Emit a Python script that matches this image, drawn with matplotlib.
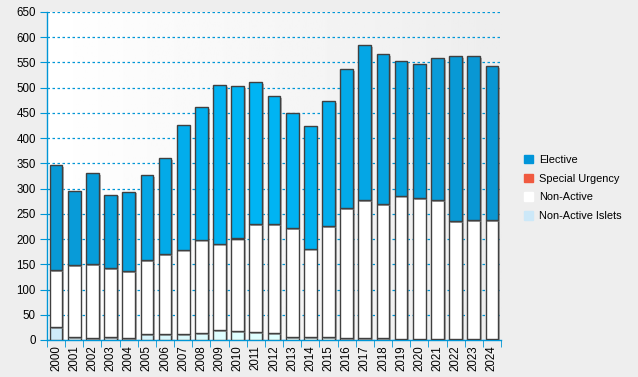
import numpy as np
import matplotlib
matplotlib.use("Agg")
import matplotlib.pyplot as plt
import matplotlib.patheffects as pe
from matplotlib.patches import Patch

years = [str(y) for y in range(2000, 2025)]
totals = [347, 296, 331, 288, 294, 327, 361, 426, 462, 505, 503, 511, 483,
          450, 424, 473, 537, 584, 567, 553, 547, 559, 563, 563, 543]
non_active = [113, 142, 147, 137, 132, 147, 159, 167, 185, 171, 183, 214, 216,
              216, 175, 220, 258, 274, 266, 285, 281, 277, 235, 237, 237]
islets = [26, 6, 4, 6, 4, 12, 12, 12, 14, 20, 18, 16, 14,
          6, 6, 6, 4, 4, 4, 1, 1, 1, 1, 1, 1]
special = [0, 0, 0, 0, 0, 0, 0, 0, 0, 0, 2, 0, 0,
           0, 0, 0, 0, 0, 0, 0, 0, 0, 0, 0, 0]
elective = [t - n - i - s for t, n, i, s in zip(totals, non_active, islets, special)]

BLUE = "#0096d6"
plt.rcParams["font.family"] = ["Liberation Sans", "DejaVu Sans"]

fig = plt.figure(figsize=(6.38, 3.77), dpi=100, facecolor="#eeeeee")
ax = fig.add_axes([47 / 638, 1 - 340 / 377, 454 / 638, 328 / 377])

# background gradient of the plot area
grad = np.linspace(1.0, 0.93, 256).reshape(1, -1)
ax.imshow(grad, extent=[0, 1, 0, 1], transform=ax.transAxes, cmap="gray",
          vmin=0, vmax=1, aspect="auto", zorder=0)

x = np.arange(len(years))
# lighting effect: bars brighter toward the middle
w = np.exp(-((x - 11) / 8.0) ** 2)
dark = np.array([0x0a, 0x94, 0xd0]) / 255
light = np.array([0x00, 0xb4, 0xf4]) / 255
el_cols = [tuple(dark + (light - dark) * k) for k in w]
isl_dark = np.array([0xcc, 0xe8, 0xf8]) / 255
isl_light = np.array([0xe0, 0xff, 0xff]) / 255
isl_cols = [tuple(isl_dark + (isl_light - isl_dark) * k) for k in w]

shadow = [pe.SimplePatchShadow(offset=(1.3, -1.3), shadow_rgbFace="#808080", alpha=0.6),
          pe.Normal()]
kw = dict(width=0.7, edgecolor="#404040", linewidth=1.0, zorder=3)

b1 = ax.bar(x, islets, color=isl_cols, **kw)
bottom = np.array(islets)
b2 = ax.bar(x, non_active, bottom=bottom, color="white", **kw)
bottom = bottom + np.array(non_active)
b3 = ax.bar(x, special, bottom=bottom, color="#f05a40", **kw)
bottom = bottom + np.array(special)
b4 = ax.bar(x, elective, bottom=bottom, color=el_cols, **kw)
for bars in (b1, b2, b4):
    for r in bars:
        r.set_path_effects(shadow)

ax.set_xlim(-0.5, len(years) - 0.5)
ax.set_ylim(0, 650)
ax.set_yticks(range(0, 651, 50))
ax.yaxis.grid(True, color=BLUE, linestyle=(0, (2, 2)), linewidth=0.9)
ax.set_axisbelow(True)

ax.set_xticks(x)
ax.set_xticklabels(years, rotation=90, fontsize=8.3)
ax.set_xticks(np.arange(-0.5, len(years)), minor=True)
ax.tick_params(axis="x", which="major", length=0, pad=4)
ax.tick_params(axis="x", which="minor", length=5, color=BLUE, direction="out")
ax.tick_params(axis="y", length=5, color=BLUE, labelsize=8.3, pad=3)

for s in ("top", "right"):
    ax.spines[s].set_visible(False)
for s in ("left", "bottom"):
    ax.spines[s].set_color(BLUE)
    ax.spines[s].set_linewidth(1.0)

handles = [Patch(color="#0095d9", label="Elective"),
           Patch(color="#f05a40", label="Special Urgency"),
           Patch(color="white", label="Non-Active"),
           Patch(color="#cce8f8", label="Non-Active Islets")]
fig.legend(handles=handles, loc="center left", bbox_to_anchor=(514 / 638, 1 - 188 / 377),
           frameon=False, fontsize=7.9, handlelength=0.8, handleheight=0.8,
           handletextpad=0.6, labelspacing=0.8)

fig.savefig("out.png", dpi=100, facecolor=fig.get_facecolor())
